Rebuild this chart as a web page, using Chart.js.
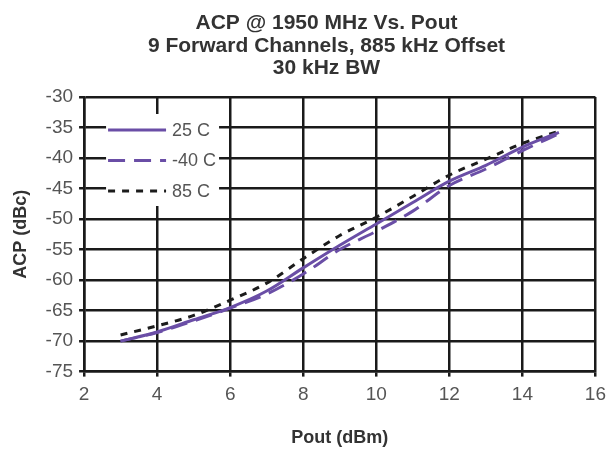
<!DOCTYPE html>
<html>
<head>
<meta charset="utf-8">
<script src="https://cdn.jsdelivr.net/npm/chart.js@4.4.1/dist/chart.umd.min.js"></script>
<style>
  html, body { margin: 0; padding: 0; background: #fff; }
  #acpChart { display: block; }
</style>
</head>
<body>
<canvas id="acpChart" width="613" height="449"></canvas>
<script>
// Pout (dBm) sample points
const pout = [3, 4, 5, 6, 7, 8, 9, 10, 11, 12, 13, 14, 15];
const acp25 = [-70, -68.5, -66.5, -64.5, -61.8, -58, -54.3, -50.8, -47.3, -43.8, -41.2, -38.2, -35.8];
const acpMinus40 = [-70, -68.6, -66.7, -64.6, -62.3, -59, -55, -52, -48.7, -44.5, -41.8, -38.8, -36];
const acp85 = [-69, -67.5, -65.8, -63.3, -60.5, -56.5, -52.7, -49.7, -46.3, -42.8, -40.2, -37.6, -35.6];

const seriesNames = ["25 C", "-40 C", "85 C"];
const titleLines = ["ACP @ 1950 MHz Vs. Pout", "9 Forward Channels, 885 kHz Offset", "30 kHz BW"];
const xTitle = "Pout (dBm)";
const yTitle = "ACP (dBc)";

const purple = "#6a4ea6";
const dark = "#1c1c1c";
const font = "'Liberation Sans', Arial, sans-serif";

function pts(ys) {
    return pout.map((x, i) => ({ x: x, y: ys[i] }));
}

// three line heading, a bit right of the canvas centre like the original
const header = {
    id: "header",
    afterDraw(chart) {
        const ctx = chart.ctx;
        ctx.save();
        ctx.fillStyle = "#333";
        ctx.font = "bold 21px " + font;
        ctx.textAlign = "center";
        ctx.textBaseline = "middle";
        const cx = (chart.width + 40) / 2;
        titleLines.forEach((t, i) => ctx.fillText(t, cx, 23.5 + i * 22.5));
        ctx.restore();
    }
};

// legend drawn inside the plot, on a white patch
const insideLegend = {
    id: "insideLegend",
    afterDatasetsDraw(chart) {
        const ctx = chart.ctx;
        const a = chart.chartArea;
        const x0 = a.left + 22;
        ctx.save();
        ctx.fillStyle = "#fff";
        ctx.fillRect(x0, a.top + 17, 113, 92);
        chart.data.datasets.forEach((ds, i) => {
            const y = a.top + 33 + i * 30.5;
            ctx.beginPath();
            ctx.strokeStyle = ds.borderColor;
            ctx.lineWidth = ds.borderWidth;
            ctx.setLineDash(ds.borderDash || []);
            ctx.moveTo(x0 + 2, y);
            ctx.lineTo(x0 + 60, y);
            ctx.stroke();
            ctx.setLineDash([]);
            ctx.fillStyle = "#555";
            ctx.font = "18px " + font;
            ctx.textBaseline = "middle";
            ctx.fillText(ds.label, x0 + 66, y + 1);
        });
        ctx.restore();
    }
};

const ctx = document.getElementById("acpChart").getContext("2d");
const acpChart = new Chart(ctx, {
    type: "scatter",
    data: {
        datasets: [
            {
                label: seriesNames[0],
                data: pts(acp25),
                borderColor: purple,
                borderWidth: 3,
                showLine: true,
                pointRadius: 0,
                cubicInterpolationMode: "monotone"
            },
            {
                label: seriesNames[1],
                data: pts(acpMinus40),
                borderColor: purple,
                borderWidth: 3,
                borderDash: [17, 9],
                showLine: true,
                pointRadius: 0,
                cubicInterpolationMode: "monotone"
            },
            {
                label: seriesNames[2],
                data: pts(acp85),
                borderColor: dark,
                borderWidth: 3,
                borderDash: [7, 7],
                showLine: true,
                pointRadius: 0,
                cubicInterpolationMode: "monotone"
            }
        ]
    },
    options: {
        responsive: false,
        animation: false,
        layout: { padding: { left: 6, right: 10, top: 97, bottom: 0 } },
        plugins: {
            legend: { display: false },
            tooltip: { enabled: false },
            title: { display: false }
        },
        scales: {
            x: {
                type: "linear",
                min: 2,
                max: 16,
                ticks: { stepSize: 2, color: "#555", font: { family: font, size: 19 }, padding: 7 },
                grid: { color: "#1a1a1a", lineWidth: 2.5, tickLength: 5 },
                border: { color: "#1a1a1a", width: 2.5 },
                title: { display: true, text: xTitle, color: "#333", font: { family: font, size: 18, weight: "bold" }, padding: { top: 14, bottom: 0 } }
            },
            y: {
                min: -75,
                max: -30,
                ticks: { stepSize: 5, color: "#555", font: { family: font, size: 19 }, padding: 6 },
                grid: { color: "#1a1a1a", lineWidth: 2.5, tickLength: 5 },
                border: { color: "#1a1a1a", width: 2.5 },
                title: { display: true, text: yTitle, color: "#333", font: { family: font, size: 18, weight: "bold" }, padding: { bottom: 8 } }
            }
        }
    },
    plugins: [header, insideLegend]
});
</script>
</body>
</html>
